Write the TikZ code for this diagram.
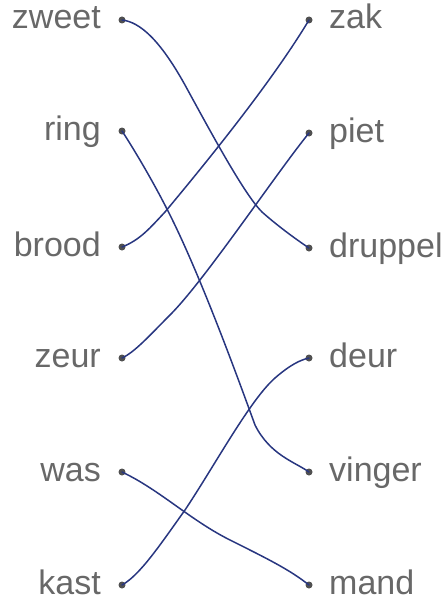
\documentclass[tikz,border=0pt]{standalone}
\usepackage{fontspec}
\setmainfont{Liberation Sans}
\definecolor{wordgray}{HTML}{686868}
\definecolor{dotgray}{HTML}{505050}
\definecolor{inkblue}{HTML}{283680}
\begin{document}
\begin{tikzpicture}[x=1pt,y=-1pt,
  word/.style={inner sep=0pt,text=wordgray,font=\fontsize{34}{40}\selectfont},
  lword/.style={word,anchor=base east},
  rword/.style={word,anchor=base west},
  dotnode/.style={circle,fill=dotgray,inner sep=0pt,minimum size=7pt},
  link/.style={draw=inkblue,line width=1.5pt,line cap=round}]
\useasboundingbox (0,0) rectangle (446,602);
% left column
\foreach \n/\w/\y in {L1/zweet/20,L2/ring/131,L3/brood/247,L4/zeur/358,L5/was/472,L6/kast/585}{
  \node[lword] (w\n) at (101,\y+9) {\w};
  \node[dotnode] (\n) at (122,\y) {};
}
% right column
\foreach \n/\w/\y in {R1/zak/20,R2/piet/133,R3/druppel/248,R4/deur/358,R5/vinger/472,R6/mand/585}{
  \node[rword] (w\n) at (329,\y+9) {\w};
  \node[dotnode] (\n) at (309,\y) {};
}
% connectors
\draw[link] (L1.center) .. controls (140,22) and (160,40) .. (185,85)
  .. controls (215,140) and (245,195) .. (262,212)
  .. controls (280,228) and (300,242) .. (R3.center);
\draw[link] (L2.center) .. controls (128,140) and (150,175) .. (170,215)
  .. controls (200,275) and (235,370) .. (255,425)
  .. controls (270,455) and (295,462) .. (R5.center);
\draw[link] (L3.center) .. controls (140,240) and (150,228) .. (165,212)
  .. controls (200,170) and (270,85) .. (R1.center);
\draw[link] (L4.center) .. controls (135,352) and (150,335) .. (170,315)
  .. controls (205,280) and (275,175) .. (R2.center);
\draw[link] (L5.center) .. controls (160,490) and (190,520) .. (230,540)
  .. controls (270,560) and (290,570) .. (R6.center);
\draw[link] (L6.center) .. controls (140,575) and (160,545) .. (185,510)
  .. controls (215,465) and (250,400) .. (275,378)
  .. controls (290,365) and (300,360) .. (R4.center);
\end{tikzpicture}
\end{document}
